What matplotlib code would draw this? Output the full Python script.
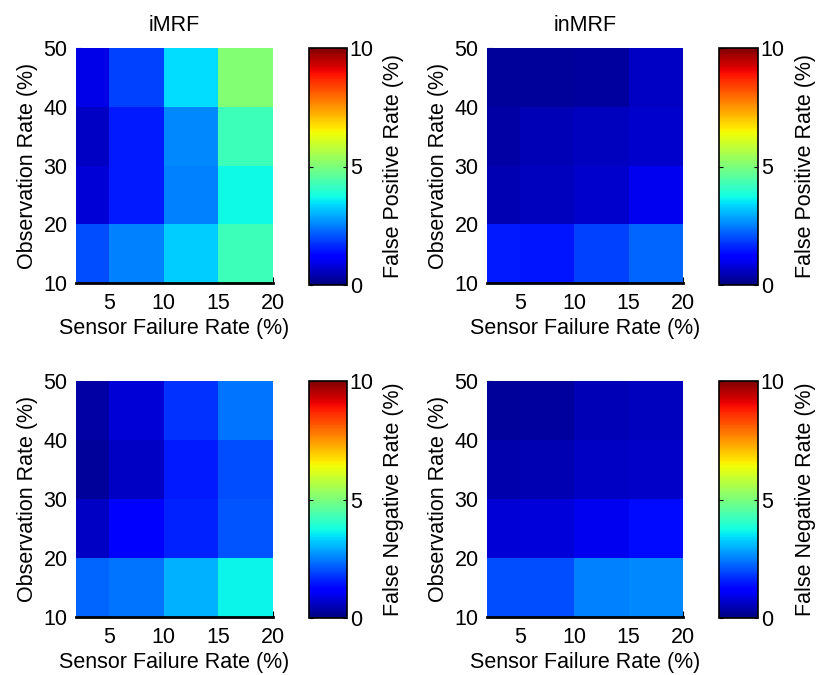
import numpy as np
import matplotlib
matplotlib.use('Agg')
import matplotlib.pyplot as plt

plt.rcParams['font.family'] = ['Liberation Sans', 'DejaVu Sans']

# cell edges
sensor_fail = [2, 5, 10, 15, 20]
obs_rate = [10, 20, 30, 40, 50]

# rows: obs rate 10-20, 20-30, 30-40, 40-50 ; cols: sensor failure bins
fp_imrf = [[2.0, 2.5, 3.25, 4.25],
           [0.75, 1.5, 2.5, 3.7],
           [0.6, 1.5, 2.6, 4.25],
           [0.9, 1.9, 3.4, 5.1]]
fp_inmrf = [[1.5, 1.45, 1.9, 2.25],
            [0.45, 0.55, 0.7, 1.0],
            [0.35, 0.5, 0.55, 0.7],
            [0.25, 0.25, 0.3, 0.6]]
fn_imrf = [[2.25, 2.4, 3.0, 3.65],
           [0.6, 1.1, 1.6, 2.1],
           [0.25, 0.6, 1.5, 2.0],
           [0.35, 0.75, 1.75, 2.4]]
fn_inmrf = [[2.0, 2.0, 2.5, 2.6],
            [0.75, 0.8, 1.0, 1.35],
            [0.4, 0.45, 0.6, 0.65],
            [0.25, 0.3, 0.5, 0.55]]

W, H = 816, 675
fig = plt.figure(figsize=(W / 100, H / 100), dpi=100)

def px(l, r, t, b):
    return [l / W, (H - b) / H, (r - l) / W, (b - t) / H]

panels = [
    (fp_imrf, 'iMRF', 'False Positive Rate (%)', px(76, 273, 48, 283), px(309, 347, 48, 285)),
    (fp_inmrf, 'inMRF', 'False Positive Rate (%)', px(487, 683, 48, 283), px(719, 758, 48, 285)),
    (fn_imrf, None, 'False Negative Rate (%)', px(76, 273, 381, 617), px(309, 347, 381, 618)),
    (fn_inmrf, None, 'False Negative Rate (%)', px(487, 683, 381, 617), px(719, 758, 381, 618)),
]

fs = 15.5
for data, title, clabel, apos, cpos in panels:
    ax = fig.add_axes(apos)
    mesh = ax.pcolormesh(sensor_fail, obs_rate, np.array(data), cmap='jet', vmin=0, vmax=10)
    ax.set_xlim(2, 20)
    ax.set_ylim(10, 50)
    ax.set_xticks([5, 10, 15, 20])
    ax.set_yticks([10, 20, 30, 40, 50])
    ax.set_axisbelow(True)
    for s in ['top', 'right', 'left']:
        ax.spines[s].set_visible(False)
    ax.spines['bottom'].set_linewidth(2)
    ax.tick_params(direction='in', length=4, labelsize=fs, pad=6)
    ax.tick_params(axis='x', pad=7)
    ax.set_xlabel('Sensor Failure Rate (%)', fontsize=fs, labelpad=3)
    ax.set_ylabel('Observation Rate (%)', fontsize=fs, labelpad=4)
    if title:
        ax.set_title(title, fontsize=fs, pad=12)

    cax = fig.add_axes(cpos)
    cb = fig.colorbar(mesh, cax=cax, ticks=[0, 5, 10])
    cb.outline.set_linewidth(1.2)
    cax.tick_params(direction='in', length=3, left=True, right=True,
                    labelsize=fs, pad=2)
    cb.set_label(clabel, fontsize=fs, labelpad=7)

fig.savefig('out.png', dpi=100)
